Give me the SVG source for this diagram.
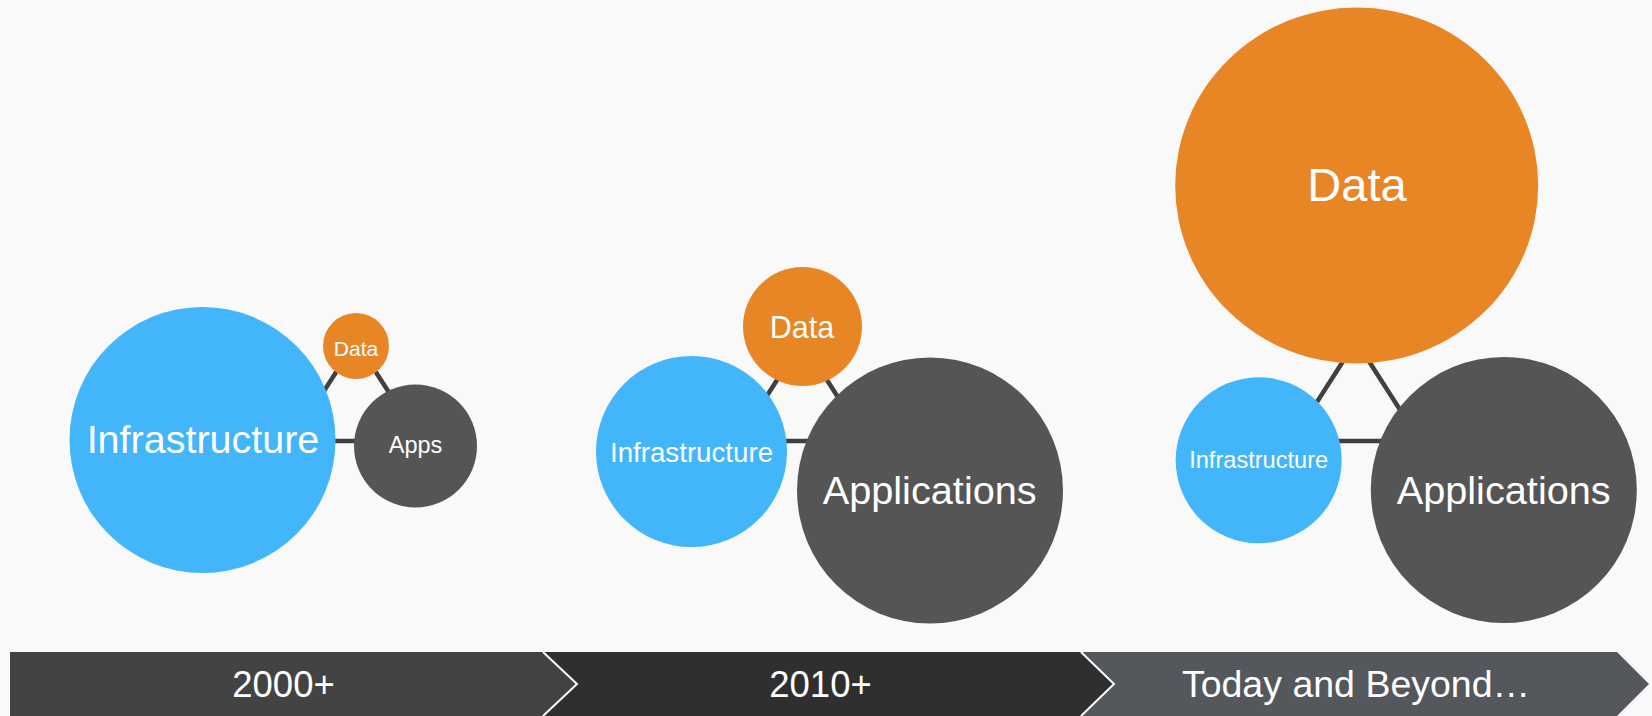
<svg xmlns="http://www.w3.org/2000/svg" width="1652" height="716" viewBox="0 0 1652 716">
<style>
  text { font-family: "Liberation Sans", Arial, sans-serif; fill: #ffffff; text-anchor: middle; }
  .infra { fill: #42b5fb; }
  .data { fill: #e88625; }
  .apps { fill: #555555; }
  .link { stroke: #404040; stroke-width: 4.5; fill: none; stroke-linejoin: miter; }
  .sep { stroke: #ffffff; stroke-width: 2; fill: none; }
</style>
<rect x="0" y="0" width="1652" height="716" fill="#f9f9f9"/>

<g id="connectors">
  <polygon class="link" points="356,341 292,441 420,441"/>
  <polygon class="link" points="802,341 738,441 866,441"/>
  <polygon class="link" points="1356,341 1292,441 1420,441"/>
</g>

<g id="era1-infrastructure">
  <circle class="infra" cx="202.5" cy="440" r="133"/>
  <text x="203" y="453" font-size="39.5">Infrastructure</text>
</g>
<g id="era1-data">
  <circle class="data" cx="356" cy="346" r="33"/>
  <text x="356" y="355.5" font-size="21">Data</text>
</g>
<g id="era1-apps">
  <circle class="apps" cx="415.5" cy="446" r="61.5"/>
  <text x="415.5" y="453" font-size="23.5">Apps</text>
</g>

<g id="era2-infrastructure">
  <circle class="infra" cx="691.5" cy="451.5" r="95.5"/>
  <text x="691.5" y="462" font-size="27.7">Infrastructure</text>
</g>
<g id="era2-data">
  <circle class="data" cx="802.5" cy="326.5" r="59.5"/>
  <text x="802" y="337.5" font-size="30.5">Data</text>
</g>
<g id="era2-applications">
  <circle class="apps" cx="930" cy="490.5" r="133"/>
  <text x="929.7" y="504" font-size="39.7">Applications</text>
</g>

<g id="era3-data">
  <ellipse class="data" cx="1356.7" cy="185.5" rx="181.5" ry="178"/>
  <text x="1357" y="201" font-size="47">Data</text>
</g>
<g id="era3-infrastructure">
  <circle class="infra" cx="1258.7" cy="460.3" r="83"/>
  <text x="1258.7" y="467.5" font-size="23.6">Infrastructure</text>
</g>
<g id="era3-applications">
  <circle class="apps" cx="1503.8" cy="490" r="133"/>
  <text x="1503.7" y="504" font-size="39.7">Applications</text>
</g>

<g id="timeline-2000">
  <polygon points="10,652 543,652 577,684 543,716 10,716" fill="#434343"/>
  <text x="283.5" y="697" font-size="36.5">2000+</text>
</g>
<g id="timeline-2010">
  <polygon points="543,652 1081,652 1114,684 1081,716 543,716 577,684" fill="#2f2f2f"/>
  <text x="820.5" y="697" font-size="36.5">2010+</text>
</g>
<g id="timeline-today">
  <polygon points="1081,652 1617,652 1649,684 1617,716 1081,716 1114,684" fill="#54575c"/>
  <text x="1356" y="697" font-size="37.5">Today and Beyond…</text>
</g>
<g id="timeline-separators">
  <polyline class="sep" points="543,652 577,684 543,716"/>
  <polyline class="sep" points="1081,652 1114,684 1081,716"/>
</g>
</svg>
